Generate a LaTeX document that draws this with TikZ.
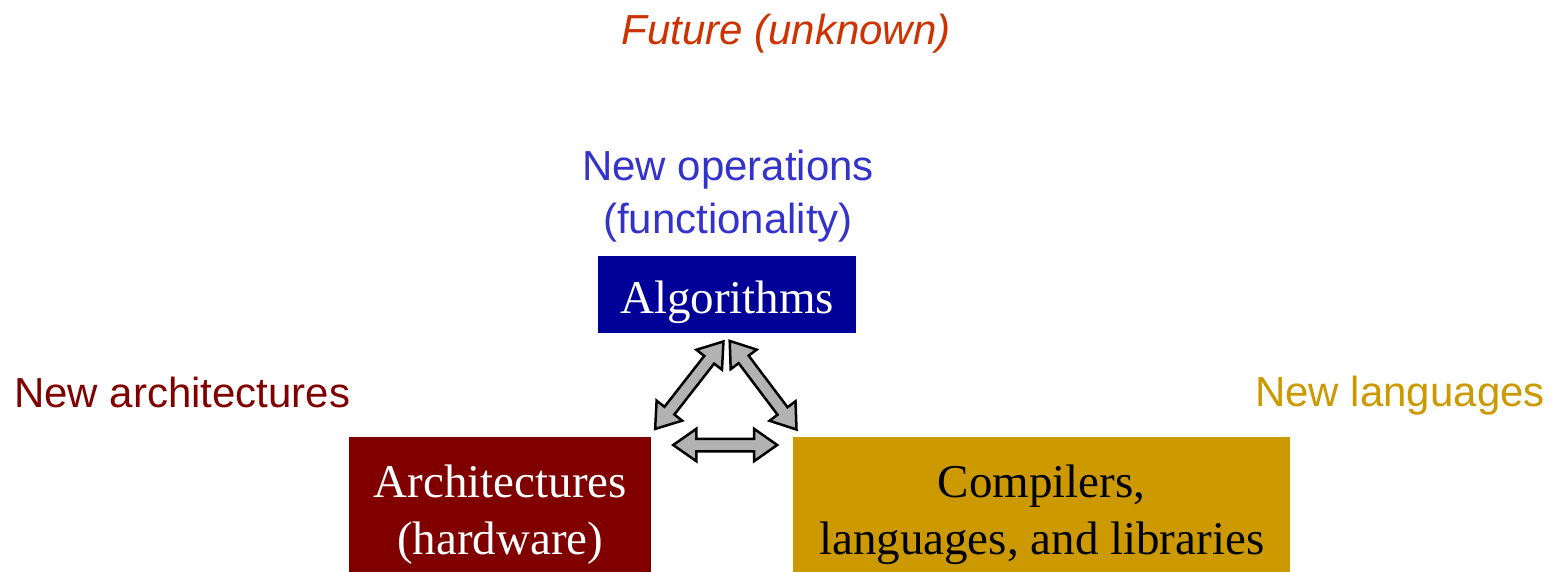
\documentclass[tikz,border=0pt]{standalone}
\usepackage{fontspec}
\setmainfont{Liberation Serif}
\setsansfont{Liberation Sans}
\usetikzlibrary{calc,positioning,shapes.arrows}
\definecolor{TriBlue}{HTML}{000099}
\definecolor{TriMaroon}{HTML}{800000}
\definecolor{TriGold}{HTML}{CC9900}
\definecolor{TriViolet}{HTML}{3333CC}
\definecolor{TriRust}{HTML}{CC3300}
\definecolor{TriGray}{HTML}{B2B2B2}

\begin{document}
\begin{tikzpicture}[
    x=1pt,
    y=-1pt,
    box/.style={anchor=north west, inner sep=0pt, align=center, font=\fontsize{47}{57}\selectfont},
    algo/.style={box, fill=TriBlue, text=white, minimum width=258pt, minimum height=77pt, text height=37pt, text depth=0pt},
    arch/.style={box, fill=TriMaroon, text=white, minimum width=302pt, minimum height=155pt},
    comp/.style={box, fill=TriGold, text=black, minimum width=497pt, minimum height=155pt},
    note/.style={inner sep=0pt, align=center, font=\sffamily\fontsize{42}{53}\selectfont},
    link/.style={double arrow, draw=black, line width=2.5pt, fill=TriGray, inner xsep=0pt, inner ysep=5pt, double arrow head extend=10pt, double arrow tip angle=70}
  ]
    \useasboundingbox (0,0) rectangle (1555,571);

    \node[algo] (alg) at (598,256) {Algorithms};
    \node[arch] (arc) at (349,437) {Architectures\\(hardware)};
    \node[comp] (cmp) at (793,437) {Compilers,\\languages, and libraries};

    \node[note, text=TriRust] (future) at (786,34) {\itshape Future (unknown)};
    \node[note, text=TriViolet] (newops) at (728,196) {New operations\\(functionality)};
    \node[note, text=TriMaroon, anchor=west] (newarch) at (14,392) {New architectures};
    \node[note, text=TriGold, anchor=east] (newlang) at (1545,396) {New languages};

    \node[link, rotate=52, minimum height=111pt] (algarc) at ($(alg.south)!0.5!(arc.north east)$) {};
    \node[link, rotate=-53, minimum height=111pt] (algcmp) at ($(alg.south)!0.5!(cmp.north west)+(3,0)$) {};
    \node[link, minimum height=104pt] (arccmp) at ($(arc.north east)!0.5!(cmp.north west)+(3,8)$) {};
  \end{tikzpicture}
\end{document}
